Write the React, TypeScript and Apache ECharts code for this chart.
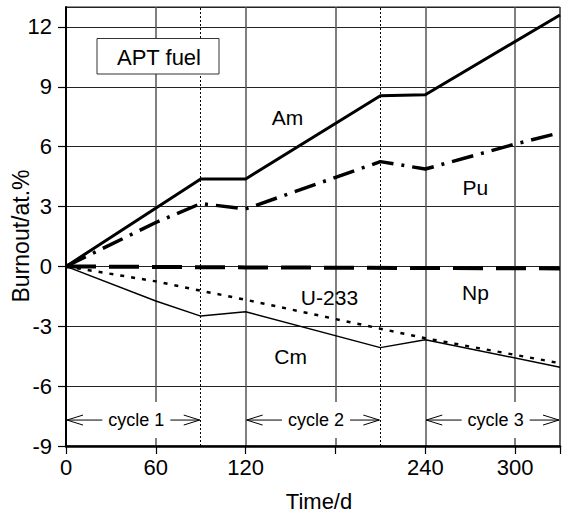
import React, { useEffect, useRef } from "react";
import * as echarts from "echarts";

// ---- data ----
const timeAm = [0, 90, 120, 210, 240, 330];
const am = [0, 4.38, 4.38, 8.55, 8.6, 12.6];

const timePu = [0, 60, 90, 120, 210, 240, 300, 330];
const pu = [0, 2.2, 3.15, 2.88, 5.25, 4.88, 6.13, 6.7];

const timeNp = [0, 120, 330];
const np = [0, -0.05, -0.1];

const timeU = [0, 60, 90, 120, 210, 240, 330];
const u233 = [0, -0.75, -1.22, -1.67, -3.12, -3.6, -4.85];

const timeCm = [0, 60, 90, 120, 210, 240, 330];
const cm = [0, -1.73, -2.49, -2.27, -4.07, -3.67, -5.05];

const cycleBoundaries = [90, 210];
const cycleStart = [0, 120, 240];
const cycleEnd = [90, 210, 330];
const cycleNames = ["cycle 1", "cycle 2", "cycle 3"];
const cycleLevel = -7.7;

const curveLabelNames = ["Am", "Pu", "Np", "U-233", "Cm"];
const curveLabelX = [148, 273.5, 273.5, 176, 150];
const curveLabelY = [7.45, 3.95, -1.3, -1.55, -4.5];

const hiddenXLabels = [180, 330];

const FONT = "'Liberation Sans', Arial, Helvetica, sans-serif";

const pairs = (xs: number[], ys: number[]) => xs.map((x, i) => [x, ys[i]]);

export default function App() {
  const ref = useRef<HTMLDivElement>(null);

  useEffect(() => {
    if (!ref.current) return;
    const chart = echarts.init(ref.current, null, { renderer: "svg" });

    const option: any = {
      animation: false,
      backgroundColor: "#fff",
      grid: {
        left: 66,
        top: 7,
        width: 498,
        height: 439,
        show: true,
        borderColor: "#222",
        borderWidth: 1,
        backgroundColor: "transparent",
      },
      xAxis: {
        type: "value",
        min: 0,
        max: 330,
        interval: 60,
        axisLine: { show: true, onZero: false, lineStyle: { color: "#000", width: 2.5 } },
        axisTick: { show: true, inside: false, length: 8, lineStyle: { color: "#000", width: 1.2 } },
        axisLabel: {
          color: "#000",
          fontFamily: FONT,
          fontSize: 22,
          margin: 10,
          formatter: (v: number) => (hiddenXLabels.includes(v) ? "" : String(v)),
        },
        splitLine: { show: true, lineStyle: { color: "#555", width: 1.5 } },
      },
      yAxis: {
        type: "value",
        min: -9,
        max: 13,
        interval: 3,
        axisLine: { show: true, onZero: false, lineStyle: { color: "#000", width: 2 } },
        axisTick: { show: true, inside: false, length: 8, lineStyle: { color: "#000", width: 1.2 } },
        axisLabel: {
          color: "#000",
          fontFamily: FONT,
          fontSize: 22,
          margin: 14,
          showMaxLabel: false,
          formatter: (v: number) => (v === 13 ? "" : String(v)),
        },
        splitLine: { show: true, lineStyle: { color: "#222", width: 1 } },
      },
      graphic: [
        {
          type: "group",
          children: [
            {
              type: "rect",
              shape: { x: 97, y: 38.5, width: 122, height: 35.5 },
              style: { fill: "#fff", stroke: "#333", lineWidth: 1 },
              z: 100,
            },
            {
              type: "text",
              x: 159,
              y: 57,
              style: {
                text: "APT fuel",
                fill: "#000",
                font: `22px ${FONT}`,
                align: "center",
                verticalAlign: "middle",
              },
              z: 101,
            },
            {
              type: "text",
              x: 21,
              y: 236,
              rotation: Math.PI / 2,
              style: {
                text: "Burnout/at.%",
                fill: "#000",
                font: `23px ${FONT}`,
                align: "center",
                verticalAlign: "middle",
              },
            },
            {
              type: "text",
              x: 319,
              y: 501,
              style: {
                text: "Time/d",
                fill: "#000",
                font: `22px ${FONT}`,
                align: "center",
                verticalAlign: "middle",
              },
            },
          ],
        },
      ],
      series: [
        {
          type: "line",
          name: "Am",
          data: pairs(timeAm, am),
          symbol: "none",
          lineStyle: { color: "#000", width: 3 },
          z: 5,
          markLine: {
            silent: true,
            symbol: "none",
            label: { show: false },
            lineStyle: { color: "#000", width: 1, type: [2, 2] },
            data: cycleBoundaries.map((b) => ({ xAxis: b })),
          },
        },
        {
          type: "line",
          name: "Pu",
          data: pairs(timePu, pu),
          symbol: "none",
          lineStyle: { color: "#000", width: 3.5, type: [22, 8, 3, 8] },
          z: 5,
        },
        {
          type: "line",
          name: "Np",
          data: pairs(timeNp, np),
          symbol: "none",
          lineStyle: { color: "#000", width: 4, type: [30, 13] },
          z: 5,
        },
        {
          type: "line",
          name: "U-233",
          data: pairs(timeU, u233),
          symbol: "none",
          lineStyle: { color: "#000", width: 2.5, type: [4, 7] },
          z: 5,
        },
        {
          type: "line",
          name: "Cm",
          data: pairs(timeCm, cm),
          symbol: "none",
          lineStyle: { color: "#000", width: 1.5 },
          z: 5,
        },
        {
          type: "custom",
          name: "cycles",
          clip: false,
          z: 6,
          data: cycleStart.map((s, i) => [s, cycleEnd[i], cycleLevel, i]),
          renderItem: (params: any, api: any) => {
            const p0 = api.coord([api.value(0), api.value(2)]);
            const p1 = api.coord([api.value(1), api.value(2)]);
            const idx = api.value(3);
            const ah = 17;
            const aw = 5;
            const cx = (p0[0] + p1[0]) / 2 + 3;
            return {
              type: "group",
              children: [
                {
                  type: "line",
                  shape: { x1: p0[0] + 1, y1: p0[1], x2: p1[0] - 1, y2: p1[1] },
                  style: { stroke: "#000", lineWidth: 1 },
                },
                {
                  type: "polyline",
                  shape: {
                    points: [
                      [p0[0] + ah, p0[1] - aw],
                      [p0[0] + 1, p0[1]],
                      [p0[0] + ah, p0[1] + aw],
                    ],
                  },
                  style: { stroke: "#000", lineWidth: 1, fill: null },
                },
                {
                  type: "polyline",
                  shape: {
                    points: [
                      [p1[0] - ah, p1[1] - aw],
                      [p1[0] - 1, p1[1]],
                      [p1[0] - ah, p1[1] + aw],
                    ],
                  },
                  style: { stroke: "#000", lineWidth: 1, fill: null },
                },
                {
                  type: "text",
                  x: cx,
                  y: p0[1],
                  style: {
                    text: cycleNames[idx],
                    fill: "#000",
                    font: `18px ${FONT}`,
                    align: "center",
                    verticalAlign: "middle",
                    backgroundColor: "#fff",
                    padding: [9, 6],
                  },
                },
              ],
            };
          },
        },
        {
          type: "custom",
          name: "labels",
          clip: false,
          z: 7,
          data: curveLabelX.map((x, i) => [x, curveLabelY[i], i]),
          renderItem: (params: any, api: any) => {
            const p = api.coord([api.value(0), api.value(1)]);
            const idx = api.value(2);
            return {
              type: "text",
              x: p[0],
              y: p[1],
              style: {
                text: curveLabelNames[idx],
                fill: "#000",
                font: `21px ${FONT}`,
                align: "center",
                verticalAlign: "middle",
              },
            };
          },
        },
      ],
    };

    chart.setOption(option);
    return () => chart.dispose();
  }, []);

  return (
    <div
      ref={ref}
      style={{ position: "absolute", left: 0, top: 0, width: 563, height: 514 }}
    />
  );
}
